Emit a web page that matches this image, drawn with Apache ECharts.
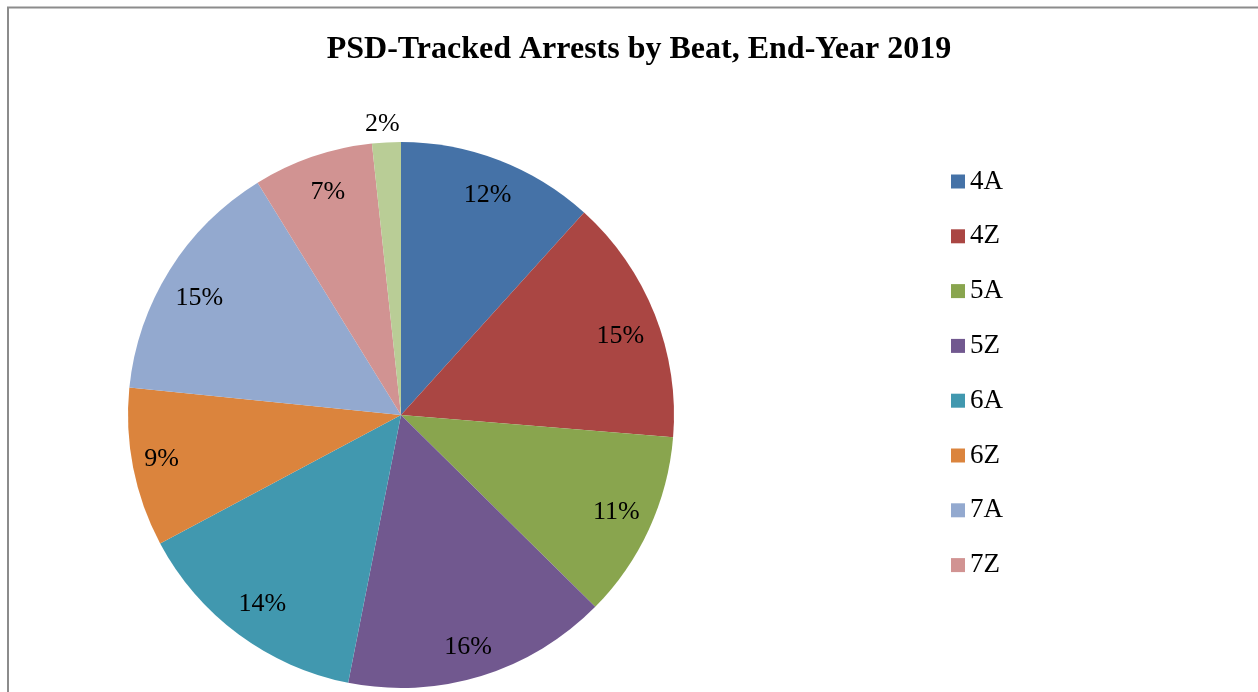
<!DOCTYPE html>
<html>
<head>
<meta charset="utf-8">
<script src="https://cdn.jsdelivr.net/npm/echarts@6/dist/echarts.min.js"></script>
<style>html,body{margin:0;padding:0;background:#fff;}#c{width:1258px;height:692px;}</style>
</head>
<body>
<div id="c"></div>
<script>
var beats = ['4A','4Z','5A','5Z','6A','6Z','7A','7Z','8A'];
var shares = [11.7, 14.6, 11.1, 15.7, 14.1, 9.4, 14.6, 7.1, 1.7];
var legendBeats = ['4A','4Z','5A','5Z','6A','6Z','7A','7Z'];
var colors = ['#4572A7','#AA4643','#89A54E','#71588F','#4198AF','#DB843D','#93A9CF','#D19392','#B9CD96'];

var serif = '"Liberation Serif","Times New Roman",serif';
var labelNudge = [[1,2],[-2,9],[-1,-2],[-3,5],[3,-2],[-6,-2],[0,9],[4,2],[-6,-53]];
var data = beats.map(function(b,i){ return {name:b, value:shares[i]}; });
var chart = echarts.init(document.getElementById('c'), null, {renderer:'canvas'});
chart.setOption({
  animation:false,
  color: colors,
  title:{text:'PSD-Tracked Arrests by Beat, End-Year 2019', left:634, textAlign:'center', top:29,
    textStyle:{fontFamily:serif, fontWeight:'bold', fontSize:32, color:'#000'}},
  legend:{orient:'vertical', left:946, top:163, data:legendBeats, icon:'rect', itemWidth:14, itemHeight:14,
    itemGap:27.8, textStyle:{fontFamily:serif, fontSize:27, color:'#000'}},
  graphic:[{type:'rect', shape:{x:8, y:7.5, width:1400, height:900}, style:{fill:'none', stroke:'#8c8c8c', lineWidth:2}, silent:true}],
  series:[
    {type:'pie', center:[401,415], radius:[0,273], startAngle:90, clockwise:true, silent:true,
     data:data, label:{show:false}, labelLine:{show:false}, itemStyle:{borderWidth:0}},
    {type:'pie', center:[401,415], radius:[197,273], startAngle:90, clockwise:true, silent:true,
     data:data, itemStyle:{color:'rgba(0,0,0,0)', borderWidth:0},
     label:{show:true, position:'inside', fontFamily:serif, fontSize:26, color:'#000',
       formatter:function(p){ return Math.round(p.percent)+'%'; }},
     labelLine:{show:false},
     labelLayout:function(p){ var n = labelNudge[p.dataIndex] || [0,0]; return {dx:n[0], dy:n[1]}; }}
  ]
});
</script>
</body>
</html>
